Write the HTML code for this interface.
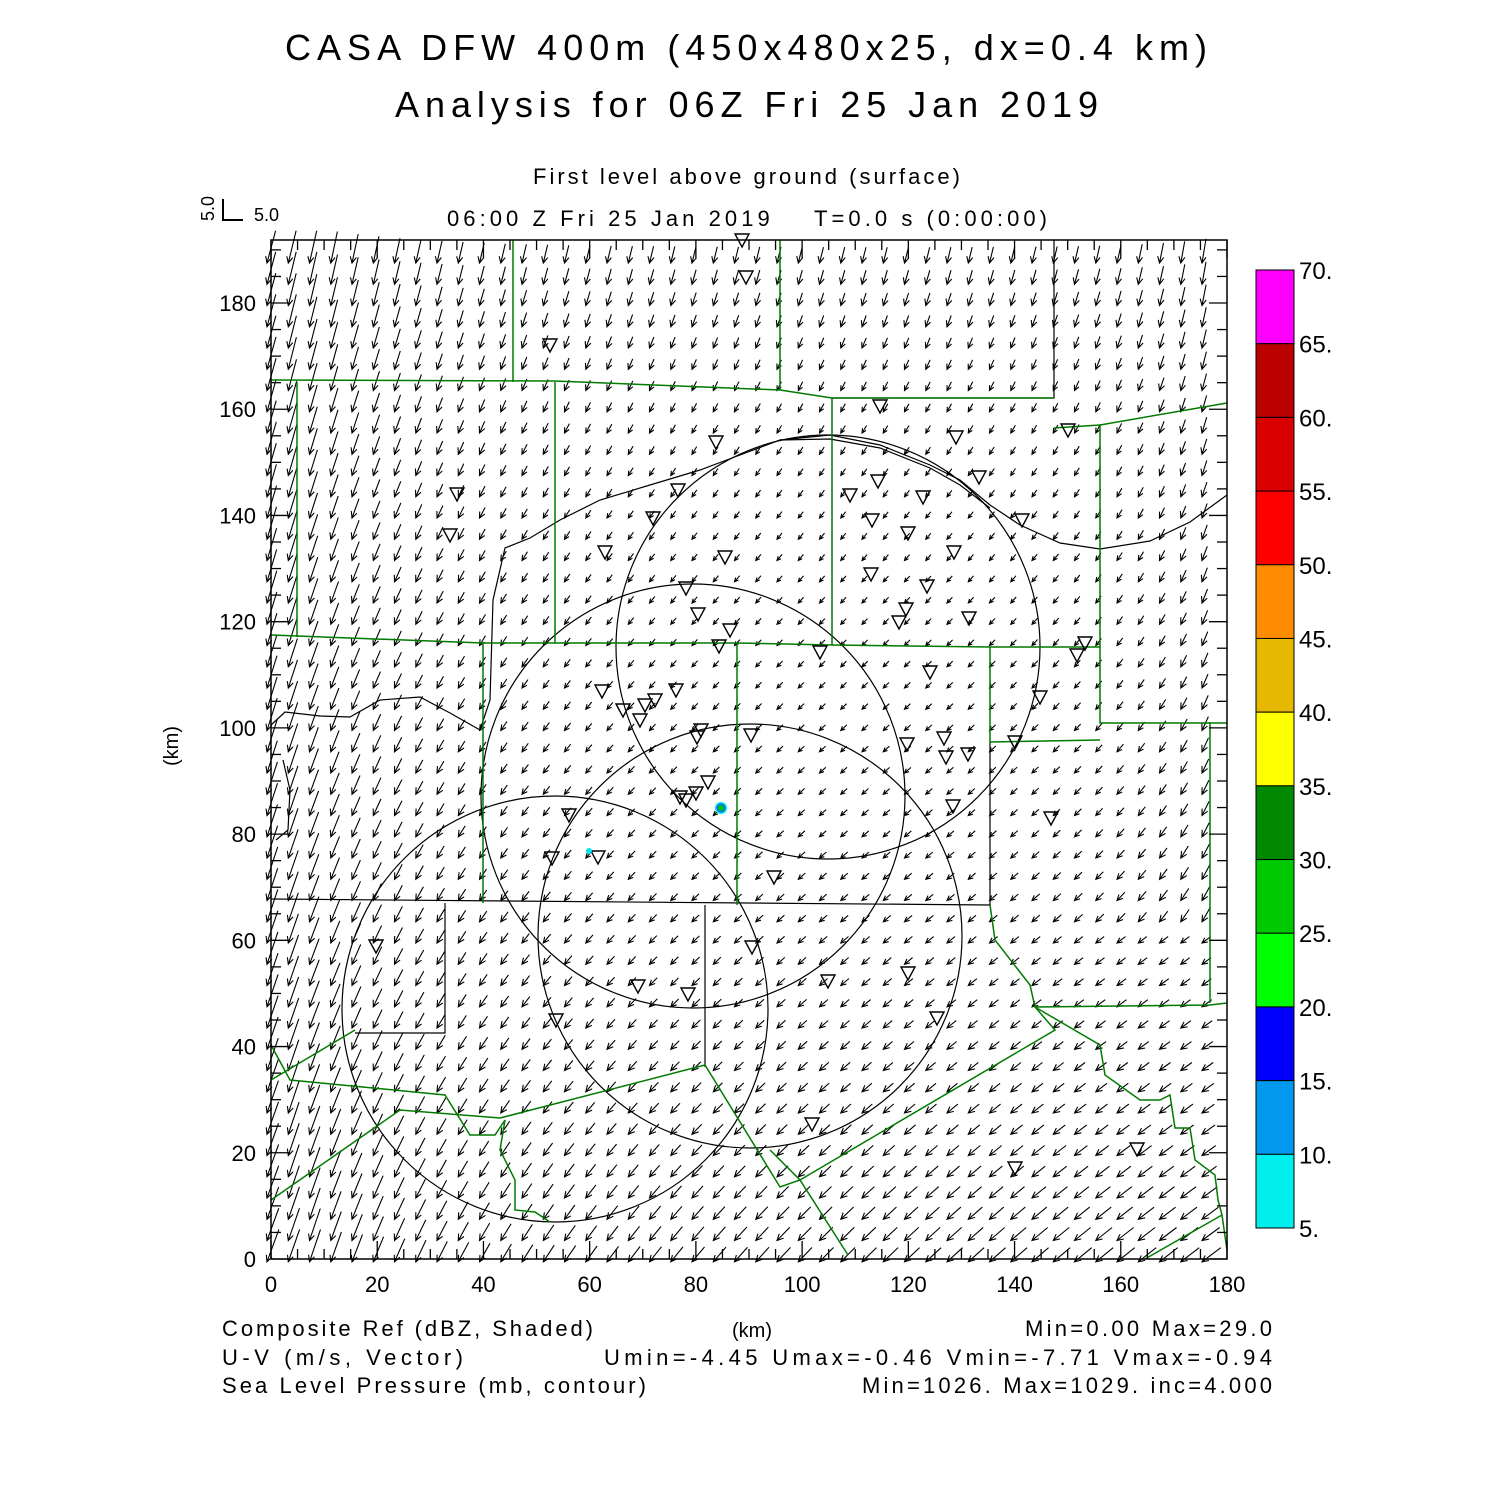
<!DOCTYPE html>
<html><head><meta charset="utf-8"><style>
html,body{margin:0;padding:0;background:#fff;}
svg{display:block;font-family:"Liberation Sans",sans-serif;}
</style></head><body>
<svg id="s" xmlns="http://www.w3.org/2000/svg" width="1500" height="1500" viewBox="0 0 1500 1500">
<rect width="1500" height="1500" fill="#fff"/>
<g fill="#000">
<text x="285" y="60" font-size="36" textLength="922" lengthAdjust="spacing">CASA DFW 400m (450x480x25, dx=0.4 km)</text>
<text x="395" y="117" font-size="36" textLength="703" lengthAdjust="spacing">Analysis for 06Z Fri 25 Jan 2019</text>
<text x="533" y="184" font-size="22" textLength="427" lengthAdjust="spacing">First level above ground (surface)</text>
<text x="447" y="226" font-size="22" textLength="600" lengthAdjust="spacing" xml:space="preserve">06:00 Z Fri 25 Jan 2019    T=0.0 s (0:00:00)</text>
<text x="254" y="221" font-size="18">5.0</text>
<text transform="translate(214,221) rotate(-90)" font-size="18">5.0</text>
<text transform="translate(178,746) rotate(-90)" font-size="20" text-anchor="middle">(km)</text>
<text x="752" y="1337" font-size="20" text-anchor="middle">(km)</text>
<text x="222" y="1336" font-size="22" textLength="371" lengthAdjust="spacing">Composite Ref (dBZ, Shaded)</text>
<text x="1025" y="1336" font-size="22" textLength="247" lengthAdjust="spacing">Min=0.00 Max=29.0</text>
<text x="222" y="1365" font-size="22" textLength="241" lengthAdjust="spacing">U-V (m/s, Vector)</text>
<text x="604" y="1365" font-size="22" textLength="668" lengthAdjust="spacing">Umin=-4.45 Umax=-0.46 Vmin=-7.71 Vmax=-0.94</text>
<text x="222" y="1393" font-size="22" textLength="424" lengthAdjust="spacing">Sea Level Pressure (mb, contour)</text>
<text x="862" y="1393" font-size="22" textLength="410" lengthAdjust="spacing">Min=1026. Max=1029. inc=4.000</text>
</g>
<path d="M223 199V220H243" stroke="#000" stroke-width="2" fill="none"/>
<g id="cb"></g>
<g id="vec" stroke="#000" stroke-width="1.1" fill="none"></g>
<g stroke="#000" stroke-width="1.2" fill="none">
<circle cx="828" cy="647" r="212"/>
<circle cx="693" cy="796" r="212"/>
<circle cx="750" cy="936" r="212"/>
<circle cx="555" cy="1009" r="213"/>
<path d="M271 725 L285 712 L320 716 L350 717 L380 700 L420 697 L450 713 L480 730 L490 700 L493 600 L505 548 L530 538 L560 520 L600 500 L650 485 L700 470 L740 455 L780 440 L830 435 L880 445 L930 465 L960 480 L990 505 L1020 525 L1060 543 L1100 549 L1150 541 L1190 522 L1227 495"/>
<path d="M780 440 L830 439 L880 448 L930 468 L960 485 L990 508"/>
<path d="M283 760 L290 790 L288 830 L276 840"/>
<path d="M1054 240V398H832M990 742V905M445 903V1033H355M705 905V1067M271 899L990 905"/>
</g>
<g stroke="#007a00" stroke-width="1.5" fill="none">
<path d="M271 380L555 381L780 390L832 398L1054 398"/>
<path d="M513 240V382M780 240V390M297 382V637M555 382V643M832 398V645"/>
<path d="M271 635L483 643L737 643L832 645L990 647L1100 647"/>
<path d="M1054 428L1100 425L1227 403M1100 425V723H1227M483 643V903M737 643V905M990 647V742L1100 740"/>
<path d="M271 1080L355 1030M271 1200L400 1110L500 1118L705 1065L780 1187L800 1180L1055 1030L1035 1007L1210 1005L1227 1003"/>
<path d="M990 905L995 940L1030 985L1035 1007M1035 1007L1100 1045L1105 1075L1140 1100L1160 1100L1170 1095L1175 1128L1190 1128L1195 1160L1215 1175L1218 1200L1222 1215L1227 1250M1145 1259L1222 1215"/>
<path d="M271 1045L290 1080L445 1095L470 1135L495 1135L505 1120L500 1150L515 1180L515 1210L535 1212L550 1222M770 1150L800 1180L848 1255"/>
<path d="M1210 722V1003"/>
</g>
<g id="tri" stroke="#000" stroke-width="1.4" fill="none"></g>
<circle cx="721" cy="808" r="6" fill="#00e5ee"/><circle cx="721" cy="808" r="4.5" fill="#0060ff"/><circle cx="721" cy="808" r="3" fill="#00c800"/>
<circle cx="589" cy="851" r="3" fill="#00e5ee"/>
<rect x="271" y="240" width="956" height="1019" fill="none" stroke="#000" stroke-width="1.5"/>
<g id="ax" stroke="#000" stroke-width="1.3"></g>
<g id="lab" font-size="22" fill="#000"></g>
</svg>
<script>
var NS="http://www.w3.org/2000/svg";
function el(p,t,a,txt){var e=document.createElementNS(NS,t);for(var k in a)e.setAttribute(k,a[k]);if(txt!=null)e.textContent=txt;document.getElementById(p).appendChild(e);return e;}
var X0=271,Y0=1259,S=956/180;
var cols=["#ff00ff","#bb0000","#d80000","#ff0000","#ff8c00","#e6b800","#ffff00","#008800","#00c800","#00ff00","#0000ff","#0099ee","#00eeee"];
var cbTop=270,ch=958/13;
for(var i=0;i<13;i++){el("cb","rect",{x:1256,y:cbTop+i*ch,width:38,height:ch,fill:cols[i],stroke:"#000","stroke-width":1});}
for(var i=0;i<=13;i++){el("lab","text",{x:1299,y:cbTop+i*ch+9,"font-size":"24"},(70-5*i)+".");}
for(var k=0;k<=180;k+=5){var x=X0+k*S,L=(k%20==0)?18:10;el("ax","line",{x1:x,y1:1259,x2:x,y2:1259-L});el("ax","line",{x1:x,y1:240,x2:x,y2:240+L});}
for(var k=0;k<=190;k+=5){var y=Y0-k*S,L=(k%20==0)?18:10;el("ax","line",{x1:271,y1:y,x2:271+L,y2:y});el("ax","line",{x1:1227,y1:y,x2:1227-L,y2:y});}
for(var k=0;k<=180;k+=20){el("lab","text",{x:X0+k*S,y:1292,"text-anchor":"middle"},k);}
for(var k=0;k<=180;k+=20){el("lab","text",{x:256,y:Y0-k*S+8,"text-anchor":"end"},k);}
var d="";
for(var i=0;i<45;i++){for(var j=0;j<48;j++){
 var tx=267+i*21.25,ty=263+j*21.25; if(tx>1224||ty>1262)continue;
 var xk=(tx-X0)/S, yk=(Y0-ty)/S;
 var v=-(1.1+6.3*Math.exp(-xk/22)+3.2*Math.exp(-(192-yk)/22)+2.2*Math.exp(-yk/35)+3*Math.exp(-(180-xk)/12)*(yk>60?1:0));
 var u=-(0.9+1.1*Math.exp(-xk/22)+0.8*(1-yk/192)+2.8*Math.exp(-yk/40)*(xk/180));
 if(v<-7.7)v=-7.7;
 var sc=4.2, dx=u*sc, dy=-v*sc;
 var sx=tx-dx, sy=ty-dy;
 var len=Math.sqrt(dx*dx+dy*dy), ux=dx/len, uy=dy/len, hl=Math.min(7,len*0.55);
 var ca=Math.cos(0.45),sa=Math.sin(0.45);
 var h1x=tx-hl*(ux*ca-uy*sa),h1y=ty-hl*(uy*ca+ux*sa),h2x=tx-hl*(ux*ca+uy*sa),h2y=ty-hl*(uy*ca-ux*sa);
 d+="M"+sx.toFixed(1)+" "+sy.toFixed(1)+"L"+tx.toFixed(1)+" "+ty.toFixed(1)+"M"+h1x.toFixed(1)+" "+h1y.toFixed(1)+"L"+tx.toFixed(1)+" "+ty.toFixed(1)+"L"+h2x.toFixed(1)+" "+h2y.toFixed(1);
}}
el("vec","path",{d:d});
var T=[[742,240],[746,277],[550,345],[880,406],[716,442],[1068,430],[956,437],[979,477],[457,494],[678,490],[850,495],[878,481],[923,497],[1022,520],[450,535],[653,518],[872,520],[908,533],[605,552],[725,557],[954,552],[686,588],[927,586],[871,574],[906,609],[899,622],[969,618],[698,614],[730,630],[719,646],[820,652],[1085,643],[1077,655],[930,672],[602,691],[676,690],[655,700],[645,705],[623,710],[640,720],[1040,697],[701,730],[697,737],[751,735],[907,744],[944,738],[1015,742],[946,757],[968,754],[708,782],[680,797],[686,800],[696,793],[953,806],[1051,818],[569,815],[552,858],[598,857],[774,877],[376,946],[752,947],[908,973],[638,986],[828,981],[688,994],[937,1018],[556,1020],[812,1124],[1137,1149],[1015,1168]];
var td="";T.forEach(function(p){td+="M"+(p[0]-7)+" "+(p[1]-6)+"H"+(p[0]+7)+"L"+p[0]+" "+(p[1]+7)+"Z";});
el("tri","path",{d:td});
</script>
</body></html>
